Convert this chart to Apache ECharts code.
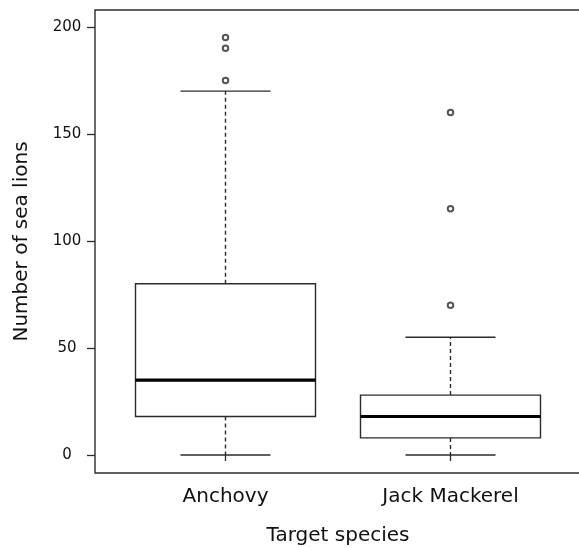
<!DOCTYPE html>
<html>
<head>
<meta charset="utf-8">
<script src="https://cdn.jsdelivr.net/npm/echarts@6/dist/echarts.min.js"></script>
<style>html,body{margin:0;padding:0;background:#fff;}#c{width:579px;height:548px;}</style>
</head>
<body>
<div id="c"></div>
<script>
const categories = ['Anchovy', 'Jack Mackerel'];
const lowWhisker = [0, 0];
const q1 = [18, 8];
const median = [35, 18];
const q3 = [80, 28];
const highWhisker = [170, 55];
const outliers = [[195, 190, 175], [160, 115, 70]];
const yTicks = [0, 50, 100, 150, 200];

const boxData = categories.map((c, i) => [i + 1, lowWhisker[i], q1[i], median[i], q3[i], highWhisker[i]]);
const outlierData = [];
outliers.forEach((arr, i) => arr.forEach(v => outlierData.push([i + 1, v])));

const lineCol = '#2b2b2b';
const chart = echarts.init(document.getElementById('c'));
chart.setOption({
  animation: false,
  backgroundColor: '#fff',
  grid: { left: 95, top: 10, width: 486, height: 463, outerBoundsMode: 'none', containLabel: false,
    show: true, borderColor: lineCol, borderWidth: 1.4, backgroundColor: 'transparent' },
  xAxis: {
    type: 'value', min: 0.42, max: 2.58,
    name: 'Target species', nameLocation: 'middle', nameGap: 53,
    nameTextStyle: { fontFamily: 'DejaVu Sans', fontSize: 20, color: '#111' },
    axisLine: { show: false },
    splitLine: { show: false },
    axisTick: { show: true, customValues: [1, 2], length: 6, lineStyle: { color: lineCol, width: 1.3 } },
    axisLabel: { customValues: [1, 2], margin: 14, fontFamily: 'DejaVu Sans', fontSize: 20, color: '#111',
      formatter: v => categories[Math.round(v) - 1] }
  },
  yAxis: {
    type: 'value', min: -8.4, max: 207.9,
    name: 'Number of sea lions', nameLocation: 'middle', nameGap: 63,
    nameTextStyle: { fontFamily: 'DejaVu Sans', fontSize: 20, color: '#111' },
    axisLine: { show: false },
    splitLine: { show: false },
    axisTick: { show: true, customValues: yTicks, length: 8, lineStyle: { color: lineCol, width: 1.3 } },
    axisLabel: { customValues: yTicks, margin: 28, align: 'center', fontFamily: 'DejaVu Sans', fontSize: 15, color: '#111' }
  },
  series: [
    {
      type: 'custom',
      data: boxData,
      encode: { x: 0, y: [1, 2, 3, 4, 5] },
      renderItem: function (params, api) {
        const x = api.value(0);
        const bw = api.size([0.8, 0])[0];
        const cw = api.size([0.4, 0])[0];
        const pLow = api.coord([x, api.value(1)]);
        const pQ1 = api.coord([x, api.value(2)]);
        const pMed = api.coord([x, api.value(3)]);
        const pQ3 = api.coord([x, api.value(4)]);
        const pHigh = api.coord([x, api.value(5)]);
        const cx = pMed[0];
        const solid = { stroke: lineCol, lineWidth: 1.4, fill: null };
        const dashed = { stroke: lineCol, lineWidth: 1.4, lineDash: [4, 3], fill: null };
        return {
          type: 'group',
          children: [
            { type: 'line', shape: { x1: cx, y1: pQ3[1], x2: cx, y2: pHigh[1] }, style: dashed },
            { type: 'line', shape: { x1: cx, y1: pQ1[1], x2: cx, y2: pLow[1] }, style: dashed },
            { type: 'line', shape: { x1: cx - cw / 2, y1: pHigh[1], x2: cx + cw / 2, y2: pHigh[1] }, style: solid },
            { type: 'line', shape: { x1: cx - cw / 2, y1: pLow[1], x2: cx + cw / 2, y2: pLow[1] }, style: solid },
            { type: 'rect', shape: { x: cx - bw / 2, y: pQ3[1], width: bw, height: pQ1[1] - pQ3[1] }, style: { stroke: lineCol, lineWidth: 1.4, fill: '#fff' } },
            { type: 'line', shape: { x1: cx - bw / 2, y1: pMed[1], x2: cx + bw / 2, y2: pMed[1] }, style: { stroke: '#000', lineWidth: 3.2 } }
          ]
        };
      }
    },
    {
      type: 'scatter',
      data: outlierData,
      symbol: 'emptyCircle',
      symbolSize: 5.5,
      itemStyle: { color: lineCol, borderColor: lineCol, borderWidth: 1.4 }
    }
  ]
});
</script>
</body>
</html>
